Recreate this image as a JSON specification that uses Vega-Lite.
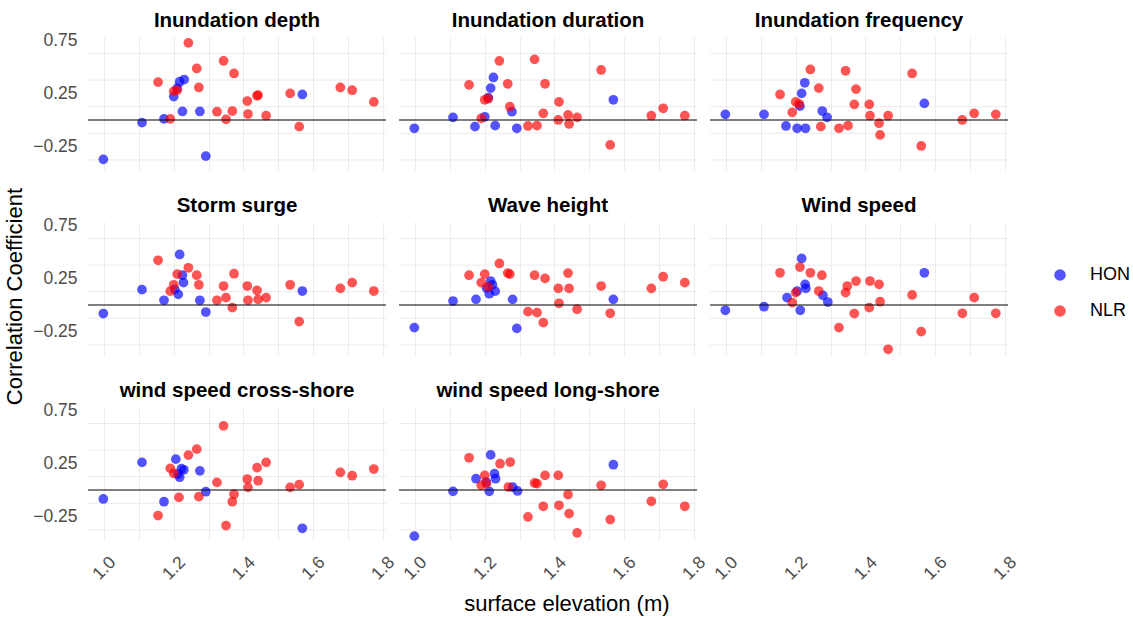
{
  "$schema": "https://vega.github.io/schema/vega-lite/v6.json",
  "padding": {"left": 3, "top": 10, "right": 5, "bottom": 5},
  "background": "white",
  "config": {
    "font": "Liberation Sans",
    "view": {"stroke": null},
    "axis": {"domain": false, "ticks": false, "gridColor": "#ebebeb", "gridWidth": 1, "labelColor": "#4d4d4d", "labelFontSize": 17.5, "titleFontSize": 22, "titleFontWeight": "normal", "titleColor": "#000000"},
    "axisY": {"labelOverlap": false, "labelSeparation": -30},
    "legend": {"labelFontSize": 18, "labelColor": "#000000"}
  },
  "title": {"text": "surface elevation (m)", "orient": "bottom", "anchor": "middle", "fontSize": 22, "fontWeight": "normal", "color": "#000000", "offset": 11},
  "data": {"values": [
    {"variable":"Inundation depth","group":"HON","elevation":0.998,"r":-0.37},
    {"variable":"Inundation depth","group":"HON","elevation":1.109,"r":-0.025},
    {"variable":"Inundation depth","group":"HON","elevation":1.172,"r":0.01},
    {"variable":"Inundation depth","group":"HON","elevation":1.200,"r":0.22},
    {"variable":"Inundation depth","group":"HON","elevation":1.210,"r":0.30},
    {"variable":"Inundation depth","group":"HON","elevation":1.217,"r":0.36},
    {"variable":"Inundation depth","group":"HON","elevation":1.225,"r":0.08},
    {"variable":"Inundation depth","group":"HON","elevation":1.230,"r":0.38},
    {"variable":"Inundation depth","group":"HON","elevation":1.275,"r":0.08},
    {"variable":"Inundation depth","group":"HON","elevation":1.292,"r":-0.34},
    {"variable":"Inundation depth","group":"HON","elevation":1.569,"r":0.24},
    {"variable":"Inundation depth","group":"NLR","elevation":1.155,"r":0.356},
    {"variable":"Inundation depth","group":"NLR","elevation":1.190,"r":0.01},
    {"variable":"Inundation depth","group":"NLR","elevation":1.200,"r":0.27},
    {"variable":"Inundation depth","group":"NLR","elevation":1.210,"r":0.28},
    {"variable":"Inundation depth","group":"NLR","elevation":1.242,"r":0.725},
    {"variable":"Inundation depth","group":"NLR","elevation":1.266,"r":0.484},
    {"variable":"Inundation depth","group":"NLR","elevation":1.272,"r":0.306},
    {"variable":"Inundation depth","group":"NLR","elevation":1.324,"r":0.078},
    {"variable":"Inundation depth","group":"NLR","elevation":1.343,"r":0.556},
    {"variable":"Inundation depth","group":"NLR","elevation":1.350,"r":0.006},
    {"variable":"Inundation depth","group":"NLR","elevation":1.368,"r":0.084},
    {"variable":"Inundation depth","group":"NLR","elevation":1.373,"r":0.4375},
    {"variable":"Inundation depth","group":"NLR","elevation":1.411,"r":0.178},
    {"variable":"Inundation depth","group":"NLR","elevation":1.413,"r":0.056},
    {"variable":"Inundation depth","group":"NLR","elevation":1.439,"r":0.228},
    {"variable":"Inundation depth","group":"NLR","elevation":1.442,"r":0.234},
    {"variable":"Inundation depth","group":"NLR","elevation":1.465,"r":0.04},
    {"variable":"Inundation depth","group":"NLR","elevation":1.534,"r":0.25},
    {"variable":"Inundation depth","group":"NLR","elevation":1.560,"r":-0.0625},
    {"variable":"Inundation depth","group":"NLR","elevation":1.678,"r":0.306},
    {"variable":"Inundation depth","group":"NLR","elevation":1.712,"r":0.28},
    {"variable":"Inundation depth","group":"NLR","elevation":1.774,"r":0.17},

    {"variable":"Inundation duration","group":"HON","elevation":0.998,"r":-0.078},
    {"variable":"Inundation duration","group":"HON","elevation":1.109,"r":0.025},
    {"variable":"Inundation duration","group":"HON","elevation":1.172,"r":-0.0625},
    {"variable":"Inundation duration","group":"HON","elevation":1.200,"r":0.03},
    {"variable":"Inundation duration","group":"HON","elevation":1.210,"r":0.21},
    {"variable":"Inundation duration","group":"HON","elevation":1.217,"r":0.30},
    {"variable":"Inundation duration","group":"HON","elevation":1.225,"r":0.40},
    {"variable":"Inundation duration","group":"HON","elevation":1.230,"r":-0.053},
    {"variable":"Inundation duration","group":"HON","elevation":1.278,"r":0.078},
    {"variable":"Inundation duration","group":"HON","elevation":1.292,"r":-0.078},
    {"variable":"Inundation duration","group":"HON","elevation":1.569,"r":0.19},
    {"variable":"Inundation duration","group":"NLR","elevation":1.155,"r":0.33},
    {"variable":"Inundation duration","group":"NLR","elevation":1.190,"r":0.016},
    {"variable":"Inundation duration","group":"NLR","elevation":1.200,"r":0.19},
    {"variable":"Inundation duration","group":"NLR","elevation":1.210,"r":0.2},
    {"variable":"Inundation duration","group":"NLR","elevation":1.242,"r":0.556},
    {"variable":"Inundation duration","group":"NLR","elevation":1.266,"r":0.34},
    {"variable":"Inundation duration","group":"NLR","elevation":1.272,"r":0.125},
    {"variable":"Inundation duration","group":"NLR","elevation":1.324,"r":-0.056},
    {"variable":"Inundation duration","group":"NLR","elevation":1.343,"r":0.57},
    {"variable":"Inundation duration","group":"NLR","elevation":1.350,"r":-0.053},
    {"variable":"Inundation duration","group":"NLR","elevation":1.368,"r":0.0625},
    {"variable":"Inundation duration","group":"NLR","elevation":1.373,"r":0.34},
    {"variable":"Inundation duration","group":"NLR","elevation":1.411,"r":0.0},
    {"variable":"Inundation duration","group":"NLR","elevation":1.413,"r":0.17},
    {"variable":"Inundation duration","group":"NLR","elevation":1.439,"r":0.047},
    {"variable":"Inundation duration","group":"NLR","elevation":1.442,"r":-0.0375},
    {"variable":"Inundation duration","group":"NLR","elevation":1.465,"r":0.025},
    {"variable":"Inundation duration","group":"NLR","elevation":1.534,"r":0.47},
    {"variable":"Inundation duration","group":"NLR","elevation":1.560,"r":-0.234},
    {"variable":"Inundation duration","group":"NLR","elevation":1.678,"r":0.04},
    {"variable":"Inundation duration","group":"NLR","elevation":1.712,"r":0.11},
    {"variable":"Inundation duration","group":"NLR","elevation":1.774,"r":0.04},

    {"variable":"Inundation frequency","group":"HON","elevation":0.998,"r":0.053},
    {"variable":"Inundation frequency","group":"HON","elevation":1.109,"r":0.053},
    {"variable":"Inundation frequency","group":"HON","elevation":1.172,"r":-0.056},
    {"variable":"Inundation frequency","group":"HON","elevation":1.204,"r":-0.078},
    {"variable":"Inundation frequency","group":"HON","elevation":1.212,"r":0.13},
    {"variable":"Inundation frequency","group":"HON","elevation":1.217,"r":0.25},
    {"variable":"Inundation frequency","group":"HON","elevation":1.226,"r":0.35},
    {"variable":"Inundation frequency","group":"HON","elevation":1.228,"r":-0.078},
    {"variable":"Inundation frequency","group":"HON","elevation":1.276,"r":0.084},
    {"variable":"Inundation frequency","group":"HON","elevation":1.290,"r":0.025},
    {"variable":"Inundation frequency","group":"HON","elevation":1.569,"r":0.156},
    {"variable":"Inundation frequency","group":"NLR","elevation":1.155,"r":0.24},
    {"variable":"Inundation frequency","group":"NLR","elevation":1.190,"r":0.072},
    {"variable":"Inundation frequency","group":"NLR","elevation":1.200,"r":0.17},
    {"variable":"Inundation frequency","group":"NLR","elevation":1.210,"r":0.15},
    {"variable":"Inundation frequency","group":"NLR","elevation":1.242,"r":0.475},
    {"variable":"Inundation frequency","group":"NLR","elevation":1.266,"r":0.30},
    {"variable":"Inundation frequency","group":"NLR","elevation":1.272,"r":-0.0625},
    {"variable":"Inundation frequency","group":"NLR","elevation":1.324,"r":-0.078},
    {"variable":"Inundation frequency","group":"NLR","elevation":1.343,"r":0.4625},
    {"variable":"Inundation frequency","group":"NLR","elevation":1.350,"r":-0.053},
    {"variable":"Inundation frequency","group":"NLR","elevation":1.368,"r":0.147},
    {"variable":"Inundation frequency","group":"NLR","elevation":1.373,"r":0.29},
    {"variable":"Inundation frequency","group":"NLR","elevation":1.411,"r":0.147},
    {"variable":"Inundation frequency","group":"NLR","elevation":1.413,"r":0.04},
    {"variable":"Inundation frequency","group":"NLR","elevation":1.439,"r":-0.03},
    {"variable":"Inundation frequency","group":"NLR","elevation":1.442,"r":-0.14},
    {"variable":"Inundation frequency","group":"NLR","elevation":1.465,"r":0.04},
    {"variable":"Inundation frequency","group":"NLR","elevation":1.534,"r":0.4375},
    {"variable":"Inundation frequency","group":"NLR","elevation":1.560,"r":-0.244},
    {"variable":"Inundation frequency","group":"NLR","elevation":1.678,"r":0.0},
    {"variable":"Inundation frequency","group":"NLR","elevation":1.712,"r":0.0625},
    {"variable":"Inundation frequency","group":"NLR","elevation":1.774,"r":0.053},

    {"variable":"Storm surge","group":"HON","elevation":0.998,"r":-0.08},
    {"variable":"Storm surge","group":"HON","elevation":1.109,"r":0.144},
    {"variable":"Storm surge","group":"HON","elevation":1.172,"r":0.044},
    {"variable":"Storm surge","group":"HON","elevation":1.203,"r":0.147},
    {"variable":"Storm surge","group":"HON","elevation":1.213,"r":0.10},
    {"variable":"Storm surge","group":"HON","elevation":1.217,"r":0.475},
    {"variable":"Storm surge","group":"HON","elevation":1.225,"r":0.28},
    {"variable":"Storm surge","group":"HON","elevation":1.228,"r":0.21},
    {"variable":"Storm surge","group":"HON","elevation":1.275,"r":0.044},
    {"variable":"Storm surge","group":"HON","elevation":1.292,"r":-0.066},
    {"variable":"Storm surge","group":"HON","elevation":1.569,"r":0.131},
    {"variable":"Storm surge","group":"NLR","elevation":1.155,"r":0.42},
    {"variable":"Storm surge","group":"NLR","elevation":1.190,"r":0.13},
    {"variable":"Storm surge","group":"NLR","elevation":1.200,"r":0.19},
    {"variable":"Storm surge","group":"NLR","elevation":1.210,"r":0.29},
    {"variable":"Storm surge","group":"NLR","elevation":1.242,"r":0.35},
    {"variable":"Storm surge","group":"NLR","elevation":1.266,"r":0.28},
    {"variable":"Storm surge","group":"NLR","elevation":1.272,"r":0.19},
    {"variable":"Storm surge","group":"NLR","elevation":1.324,"r":0.044},
    {"variable":"Storm surge","group":"NLR","elevation":1.343,"r":0.178},
    {"variable":"Storm surge","group":"NLR","elevation":1.350,"r":0.069},
    {"variable":"Storm surge","group":"NLR","elevation":1.368,"r":-0.025},
    {"variable":"Storm surge","group":"NLR","elevation":1.373,"r":0.294},
    {"variable":"Storm surge","group":"NLR","elevation":1.411,"r":0.178},
    {"variable":"Storm surge","group":"NLR","elevation":1.413,"r":0.044},
    {"variable":"Storm surge","group":"NLR","elevation":1.439,"r":0.1375},
    {"variable":"Storm surge","group":"NLR","elevation":1.442,"r":0.053},
    {"variable":"Storm surge","group":"NLR","elevation":1.465,"r":0.069},
    {"variable":"Storm surge","group":"NLR","elevation":1.534,"r":0.19},
    {"variable":"Storm surge","group":"NLR","elevation":1.560,"r":-0.156},
    {"variable":"Storm surge","group":"NLR","elevation":1.678,"r":0.156},
    {"variable":"Storm surge","group":"NLR","elevation":1.712,"r":0.21},
    {"variable":"Storm surge","group":"NLR","elevation":1.774,"r":0.131},

    {"variable":"Wave height","group":"HON","elevation":0.998,"r":-0.2125},
    {"variable":"Wave height","group":"HON","elevation":1.109,"r":0.0375},
    {"variable":"Wave height","group":"HON","elevation":1.175,"r":0.053},
    {"variable":"Wave height","group":"HON","elevation":1.205,"r":0.16},
    {"variable":"Wave height","group":"HON","elevation":1.213,"r":0.106},
    {"variable":"Wave height","group":"HON","elevation":1.217,"r":0.225},
    {"variable":"Wave height","group":"HON","elevation":1.222,"r":0.19},
    {"variable":"Wave height","group":"HON","elevation":1.230,"r":0.13},
    {"variable":"Wave height","group":"HON","elevation":1.280,"r":0.053},
    {"variable":"Wave height","group":"HON","elevation":1.292,"r":-0.22},
    {"variable":"Wave height","group":"HON","elevation":1.569,"r":0.053},
    {"variable":"Wave height","group":"NLR","elevation":1.155,"r":0.28},
    {"variable":"Wave height","group":"NLR","elevation":1.190,"r":0.21},
    {"variable":"Wave height","group":"NLR","elevation":1.200,"r":0.29},
    {"variable":"Wave height","group":"NLR","elevation":1.210,"r":0.17},
    {"variable":"Wave height","group":"NLR","elevation":1.242,"r":0.39},
    {"variable":"Wave height","group":"NLR","elevation":1.266,"r":0.30},
    {"variable":"Wave height","group":"NLR","elevation":1.272,"r":0.29},
    {"variable":"Wave height","group":"NLR","elevation":1.324,"r":-0.0625},
    {"variable":"Wave height","group":"NLR","elevation":1.343,"r":0.28},
    {"variable":"Wave height","group":"NLR","elevation":1.350,"r":-0.072},
    {"variable":"Wave height","group":"NLR","elevation":1.368,"r":-0.166},
    {"variable":"Wave height","group":"NLR","elevation":1.373,"r":0.25},
    {"variable":"Wave height","group":"NLR","elevation":1.411,"r":0.156},
    {"variable":"Wave height","group":"NLR","elevation":1.413,"r":0.016},
    {"variable":"Wave height","group":"NLR","elevation":1.439,"r":0.30},
    {"variable":"Wave height","group":"NLR","elevation":1.442,"r":0.156},
    {"variable":"Wave height","group":"NLR","elevation":1.465,"r":-0.04},
    {"variable":"Wave height","group":"NLR","elevation":1.534,"r":0.178},
    {"variable":"Wave height","group":"NLR","elevation":1.560,"r":-0.078},
    {"variable":"Wave height","group":"NLR","elevation":1.678,"r":0.156},
    {"variable":"Wave height","group":"NLR","elevation":1.712,"r":0.266},
    {"variable":"Wave height","group":"NLR","elevation":1.774,"r":0.21},

    {"variable":"Wind speed","group":"HON","elevation":0.998,"r":-0.05},
    {"variable":"Wind speed","group":"HON","elevation":1.109,"r":-0.016},
    {"variable":"Wind speed","group":"HON","elevation":1.175,"r":0.069},
    {"variable":"Wind speed","group":"HON","elevation":1.204,"r":0.131},
    {"variable":"Wind speed","group":"HON","elevation":1.213,"r":-0.05},
    {"variable":"Wind speed","group":"HON","elevation":1.217,"r":0.4375},
    {"variable":"Wind speed","group":"HON","elevation":1.227,"r":0.194},
    {"variable":"Wind speed","group":"HON","elevation":1.229,"r":0.156},
    {"variable":"Wind speed","group":"HON","elevation":1.278,"r":0.09},
    {"variable":"Wind speed","group":"HON","elevation":1.292,"r":0.028},
    {"variable":"Wind speed","group":"HON","elevation":1.569,"r":0.303},
    {"variable":"Wind speed","group":"NLR","elevation":1.155,"r":0.303},
    {"variable":"Wind speed","group":"NLR","elevation":1.190,"r":0.022},
    {"variable":"Wind speed","group":"NLR","elevation":1.200,"r":0.116},
    {"variable":"Wind speed","group":"NLR","elevation":1.212,"r":0.356},
    {"variable":"Wind speed","group":"NLR","elevation":1.242,"r":0.303},
    {"variable":"Wind speed","group":"NLR","elevation":1.266,"r":0.131},
    {"variable":"Wind speed","group":"NLR","elevation":1.275,"r":0.28},
    {"variable":"Wind speed","group":"NLR","elevation":1.324,"r":-0.2125},
    {"variable":"Wind speed","group":"NLR","elevation":1.343,"r":0.116},
    {"variable":"Wind speed","group":"NLR","elevation":1.348,"r":0.178},
    {"variable":"Wind speed","group":"NLR","elevation":1.368,"r":-0.08},
    {"variable":"Wind speed","group":"NLR","elevation":1.373,"r":0.225},
    {"variable":"Wind speed","group":"NLR","elevation":1.411,"r":-0.025},
    {"variable":"Wind speed","group":"NLR","elevation":1.413,"r":0.225},
    {"variable":"Wind speed","group":"NLR","elevation":1.439,"r":0.194},
    {"variable":"Wind speed","group":"NLR","elevation":1.442,"r":0.031},
    {"variable":"Wind speed","group":"NLR","elevation":1.465,"r":-0.416},
    {"variable":"Wind speed","group":"NLR","elevation":1.534,"r":0.094},
    {"variable":"Wind speed","group":"NLR","elevation":1.560,"r":-0.25},
    {"variable":"Wind speed","group":"NLR","elevation":1.678,"r":-0.078},
    {"variable":"Wind speed","group":"NLR","elevation":1.712,"r":0.069},
    {"variable":"Wind speed","group":"NLR","elevation":1.774,"r":-0.078},

    {"variable":"wind speed cross-shore","group":"HON","elevation":0.998,"r":-0.084},
    {"variable":"wind speed cross-shore","group":"HON","elevation":1.109,"r":0.26},
    {"variable":"wind speed cross-shore","group":"HON","elevation":1.172,"r":-0.11},
    {"variable":"wind speed cross-shore","group":"HON","elevation":1.206,"r":0.29},
    {"variable":"wind speed cross-shore","group":"HON","elevation":1.212,"r":0.15},
    {"variable":"wind speed cross-shore","group":"HON","elevation":1.217,"r":0.12},
    {"variable":"wind speed cross-shore","group":"HON","elevation":1.222,"r":0.20},
    {"variable":"wind speed cross-shore","group":"HON","elevation":1.229,"r":0.19},
    {"variable":"wind speed cross-shore","group":"HON","elevation":1.275,"r":0.18},
    {"variable":"wind speed cross-shore","group":"HON","elevation":1.292,"r":-0.016},
    {"variable":"wind speed cross-shore","group":"HON","elevation":1.569,"r":-0.36},
    {"variable":"wind speed cross-shore","group":"NLR","elevation":1.155,"r":-0.24},
    {"variable":"wind speed cross-shore","group":"NLR","elevation":1.190,"r":0.203},
    {"variable":"wind speed cross-shore","group":"NLR","elevation":1.200,"r":0.156},
    {"variable":"wind speed cross-shore","group":"NLR","elevation":1.215,"r":-0.069},
    {"variable":"wind speed cross-shore","group":"NLR","elevation":1.242,"r":0.328},
    {"variable":"wind speed cross-shore","group":"NLR","elevation":1.266,"r":0.384},
    {"variable":"wind speed cross-shore","group":"NLR","elevation":1.272,"r":-0.0625},
    {"variable":"wind speed cross-shore","group":"NLR","elevation":1.324,"r":0.072},
    {"variable":"wind speed cross-shore","group":"NLR","elevation":1.343,"r":0.603},
    {"variable":"wind speed cross-shore","group":"NLR","elevation":1.350,"r":-0.334},
    {"variable":"wind speed cross-shore","group":"NLR","elevation":1.368,"r":-0.11},
    {"variable":"wind speed cross-shore","group":"NLR","elevation":1.373,"r":-0.04},
    {"variable":"wind speed cross-shore","group":"NLR","elevation":1.411,"r":0.103},
    {"variable":"wind speed cross-shore","group":"NLR","elevation":1.413,"r":0.025},
    {"variable":"wind speed cross-shore","group":"NLR","elevation":1.439,"r":0.21},
    {"variable":"wind speed cross-shore","group":"NLR","elevation":1.442,"r":0.0875},
    {"variable":"wind speed cross-shore","group":"NLR","elevation":1.465,"r":0.26},
    {"variable":"wind speed cross-shore","group":"NLR","elevation":1.534,"r":0.025},
    {"variable":"wind speed cross-shore","group":"NLR","elevation":1.560,"r":0.05},
    {"variable":"wind speed cross-shore","group":"NLR","elevation":1.678,"r":0.166},
    {"variable":"wind speed cross-shore","group":"NLR","elevation":1.712,"r":0.134},
    {"variable":"wind speed cross-shore","group":"NLR","elevation":1.774,"r":0.197},

    {"variable":"wind speed long-shore","group":"HON","elevation":0.998,"r":-0.434},
    {"variable":"wind speed long-shore","group":"HON","elevation":1.109,"r":-0.0125},
    {"variable":"wind speed long-shore","group":"HON","elevation":1.175,"r":0.106},
    {"variable":"wind speed long-shore","group":"HON","elevation":1.204,"r":0.075},
    {"variable":"wind speed long-shore","group":"HON","elevation":1.213,"r":-0.0125},
    {"variable":"wind speed long-shore","group":"HON","elevation":1.217,"r":0.33},
    {"variable":"wind speed long-shore","group":"HON","elevation":1.228,"r":0.153},
    {"variable":"wind speed long-shore","group":"HON","elevation":1.231,"r":0.106},
    {"variable":"wind speed long-shore","group":"HON","elevation":1.280,"r":0.028},
    {"variable":"wind speed long-shore","group":"HON","elevation":1.294,"r":-0.009},
    {"variable":"wind speed long-shore","group":"HON","elevation":1.569,"r":0.2375},
    {"variable":"wind speed long-shore","group":"NLR","elevation":1.155,"r":0.303},
    {"variable":"wind speed long-shore","group":"NLR","elevation":1.190,"r":0.044},
    {"variable":"wind speed long-shore","group":"NLR","elevation":1.200,"r":0.1375},
    {"variable":"wind speed long-shore","group":"NLR","elevation":1.205,"r":0.06},
    {"variable":"wind speed long-shore","group":"NLR","elevation":1.244,"r":0.247},
    {"variable":"wind speed long-shore","group":"NLR","elevation":1.268,"r":0.028},
    {"variable":"wind speed long-shore","group":"NLR","elevation":1.273,"r":0.2625},
    {"variable":"wind speed long-shore","group":"NLR","elevation":1.324,"r":-0.253},
    {"variable":"wind speed long-shore","group":"NLR","elevation":1.343,"r":0.066},
    {"variable":"wind speed long-shore","group":"NLR","elevation":1.350,"r":0.06},
    {"variable":"wind speed long-shore","group":"NLR","elevation":1.368,"r":-0.153},
    {"variable":"wind speed long-shore","group":"NLR","elevation":1.373,"r":0.1375},
    {"variable":"wind speed long-shore","group":"NLR","elevation":1.411,"r":0.1375},
    {"variable":"wind speed long-shore","group":"NLR","elevation":1.413,"r":-0.144},
    {"variable":"wind speed long-shore","group":"NLR","elevation":1.439,"r":-0.044},
    {"variable":"wind speed long-shore","group":"NLR","elevation":1.442,"r":-0.222},
    {"variable":"wind speed long-shore","group":"NLR","elevation":1.465,"r":-0.403},
    {"variable":"wind speed long-shore","group":"NLR","elevation":1.534,"r":0.044},
    {"variable":"wind speed long-shore","group":"NLR","elevation":1.560,"r":-0.278},
    {"variable":"wind speed long-shore","group":"NLR","elevation":1.678,"r":-0.106},
    {"variable":"wind speed long-shore","group":"NLR","elevation":1.712,"r":0.053},
    {"variable":"wind speed long-shore","group":"NLR","elevation":1.774,"r":-0.153}
  ]},
  "vconcat": [
    {
      "title": {"text": "Correlation Coefficient", "orient": "left", "anchor": "middle", "fontSize": 22, "fontWeight": "normal", "color": "#000000", "offset": 6},
      "facet": {
        "field": "variable", "type": "nominal",
        "sort": ["Inundation depth","Inundation duration","Inundation frequency","Storm surge","Wave height","Wind speed","wind speed cross-shore","wind speed long-shore"],
        "header": {"title": null, "labelFontSize": 20.5, "labelFontWeight": "bold", "labelColor": "#000000", "labelPadding": 6}
      },
      "columns": 3,
      "spacing": {"row": 23, "column": 11},
      "spec": {
        "width": 298,
        "height": 133,
        "layer": [
          {"transform": [{"aggregate": [{"op": "count", "as": "n"}], "groupby": ["variable"]}], "mark": {"type": "rule", "color": "#ebebeb", "strokeWidth": 1}, "encoding": {"y": {"datum": -0.375}}},
          {"transform": [{"aggregate": [{"op": "count", "as": "n"}], "groupby": ["variable"]}], "mark": {"type": "rule", "color": "#ebebeb", "strokeWidth": 1}, "encoding": {"y": {"datum": -0.125}}},
          {"transform": [{"aggregate": [{"op": "count", "as": "n"}], "groupby": ["variable"]}], "mark": {"type": "rule", "color": "#ebebeb", "strokeWidth": 1}, "encoding": {"y": {"datum": 0.125}}},
          {"transform": [{"aggregate": [{"op": "count", "as": "n"}], "groupby": ["variable"]}], "mark": {"type": "rule", "color": "#ebebeb", "strokeWidth": 1}, "encoding": {"y": {"datum": 0.375}}},
          {"transform": [{"aggregate": [{"op": "count", "as": "n"}], "groupby": ["variable"]}], "mark": {"type": "rule", "color": "#ebebeb", "strokeWidth": 1}, "encoding": {"y": {"datum": 0.625}}},
          {
            "mark": {"type": "point", "filled": true, "size": 95, "opacity": 0.67},
            "encoding": {
              "x": {"field": "elevation", "type": "quantitative", "title": null,
                    "scale": {"domain": [0.954, 1.809], "nice": false, "zero": false},
                    "axis": {"values": [1.0,1.1,1.2,1.3,1.4,1.5,1.6,1.7,1.8], "labelOverlap": false, "labelExpr": "round(datum.value*10) % 2 === 0 ? format(datum.value, '.1f') : ''", "labelAngle": -45, "labelAlign": "center", "labelBaseline": "middle", "labelPadding": 26}},
              "y": {"field": "r", "type": "quantitative", "title": null,
                    "scale": {"domain": [-0.47, 0.78], "nice": false, "zero": false},
                    "axis": {"values": [-0.25, 0, 0.25, 0.5, 0.75], "format": ".2f", "labelOverlap": false, "labelSeparation": -30, "labelPadding": 10}},
              "color": {"field": "group", "type": "nominal",
                        "scale": {"domain": ["HON","NLR"], "range": ["#0000ff","#ff0000"]},
                        "legend": {"title": null, "orient": "none", "legendX": 963, "legendY": 229, "padding": 0, "symbolType": "circle", "symbolSize": 135, "symbolOpacity": 0.67, "rowPadding": 18, "labelOffset": 21}}
            }
          },
          {
            "transform": [{"aggregate": [{"op": "count", "as": "n"}], "groupby": ["variable"]}],
            "mark": {"type": "rule", "color": "#000000", "strokeWidth": 1.2},
            "encoding": {"y": {"datum": 0}}
          }
        ]
      }
    }
  ]
}
